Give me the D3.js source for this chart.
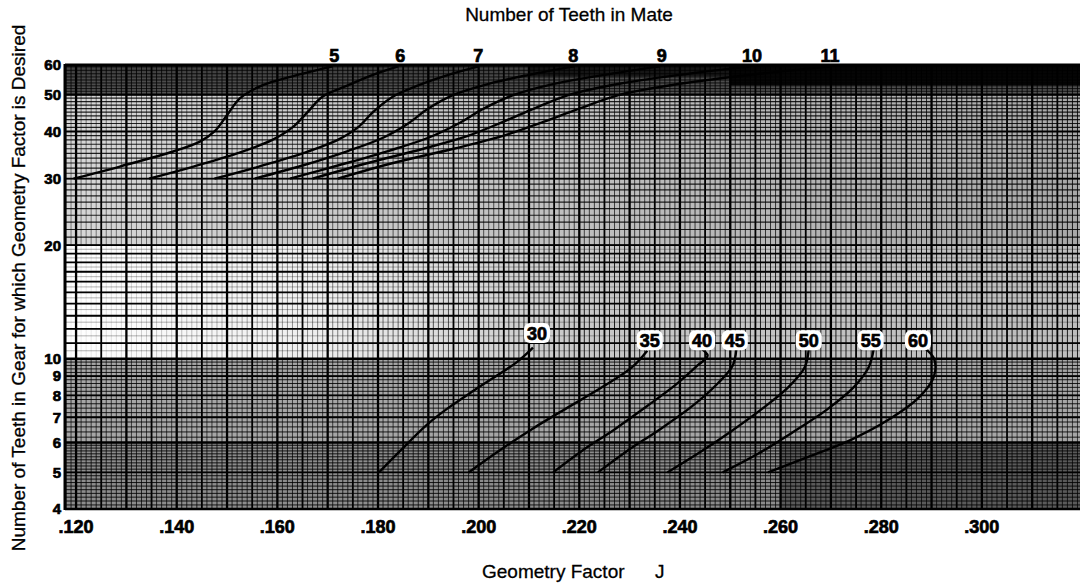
<!DOCTYPE html>
<html><head><meta charset="utf-8">
<script src="https://cdn.jsdelivr.net/npm/d3@7/dist/d3.min.js"></script>
<style>body{margin:0;background:#fff}svg{display:block}text{font-family:"Liberation Sans",Arial,Helvetica,sans-serif}
.heavy{font-weight:bold;stroke:#000;stroke-width:0.7px;paint-order:stroke}</style>
</head><body><svg id="c" width="1080" height="584"></svg>
<script>
// ---- axis ticks ----
const jTicks = [0.12, 0.14, 0.16, 0.18, 0.20, 0.22, 0.24, 0.26, 0.28, 0.30];
const jTickLabels = [".120", ".140", ".160", ".180", ".200", ".220", ".240", ".260", ".280", ".300"];
const nTicks = [4, 5, 6, 7, 8, 9, 10, 20, 30, 40, 50, 60];

// ---- upper family: number of teeth in mate 5..11 (points: [J, N]) ----
const upperLabels = ["5", "6", "7", "8", "9", "10", "11"];
const upperLabelJ = [0.1713, 0.1844, 0.1999, 0.2188, 0.2364, 0.2543, 0.2698];
const mate5  = [[0.1195,30],[0.1287,32.3],[0.1393,35.4],[0.1446,37.6],[0.1475,40],[0.1499,44],[0.1526,49],[0.157,53],[0.163,56],[0.171,59.5]];
const mate6  = [[0.1345,30],[0.143,32.2],[0.152,35],[0.159,38],[0.163,41],[0.166,45],[0.169,49.5],[0.174,53],[0.179,56.5],[0.184,59.5]];
const mate7  = [[0.1475,30],[0.156,32.2],[0.165,35],[0.172,38],[0.176,41],[0.179,45],[0.183,49.5],[0.188,53],[0.194,56.5],[0.2,59.5]];
const mate8  = [[0.1555,30],[0.165,32.5],[0.174,35.5],[0.181,38.5],[0.186,42],[0.19,46],[0.195,50],[0.202,53.5],[0.21,56.5],[0.219,59.5]];
const mate9  = [[0.1625,30],[0.172,32.5],[0.182,35.5],[0.19,38.5],[0.196,42],[0.201,46],[0.207,50],[0.215,53.5],[0.225,56.5],[0.236,59.5]];
const mate10 = [[0.167,30],[0.178,33],[0.189,36],[0.198,39],[0.205,42.5],[0.211,46],[0.218,50],[0.228,53.5],[0.24,56.5],[0.254,59.5]];
const mate11 = [[0.172,30],[0.183,33],[0.195,36],[0.205,39],[0.213,42.5],[0.22,46],[0.228,50],[0.24,53.5],[0.254,56.5],[0.27,59.5]];

// ---- lower family: number of teeth in mate 30..60 ----
const lowerLabels = ["30", "35", "40", "45", "50", "55", "60"];
const lowerLabelJ = [0.2116, 0.2340, 0.2444, 0.2509, 0.2656, 0.2779, 0.2873];
const lowerLabelN = [11.7, 11.2, 11.2, 11.2, 11.2, 11.2, 11.2];
const mate30 = [[0.1802,5],[0.1844,5.7],[0.1898,6.7],[0.1939,7.4],[0.2,8.4],[0.2076,9.8],[0.2108,10.7]];
const mate35 = [[0.198,5],[0.204,5.7],[0.2105,6.5],[0.2175,7.4],[0.2245,8.4],[0.2305,9.5],[0.2335,10.5]];
const mate40 = [[0.2148,5],[0.2205,5.7],[0.227,6.5],[0.2335,7.5],[0.239,8.5],[0.2435,9.6],[0.2455,10.2],[0.2435,10.8]];
const mate45 = [[0.2237,5],[0.2295,5.7],[0.236,6.5],[0.2425,7.5],[0.2475,8.6],[0.2505,9.6],[0.2512,10.6]];
const mate50 = [[0.2375,5],[0.2435,5.6],[0.25,6.4],[0.2565,7.4],[0.2615,8.4],[0.2648,9.5],[0.2656,10.6]];
const mate55 = [[0.2485,5],[0.2555,5.6],[0.2625,6.4],[0.269,7.3],[0.2745,8.4],[0.2775,9.5],[0.2785,10.6]];
const mate60 = [[0.2575,5],[0.2655,5.5],[0.274,6.1],[0.2815,6.9],[0.2875,7.9],[0.2905,9],[0.2905,10],[0.2885,10.7]];

const upperCurves = [mate5, mate6, mate7, mate8, mate9, mate10, mate11];
const lowerCurves = [mate30, mate35, mate40, mate45, mate50, mate55, mate60];

// ---- layout ----
const pL = 65, pR = 1080, pT = 65, pB = 509;
const svg = d3.select("#c");
const x = d3.scaleLinear().domain([0.1178, 0.3195]).range([pL, pR]);
const y = d3.scaleLog().domain([4, 60]).range([pB, pT]);
const J0 = 0.1178, J1 = 0.3195;

const plot = svg.append("g");
const defs = svg.append("defs");
defs.append("clipPath").attr("id","clip").append("rect")
  .attr("x", pL).attr("y", pT).attr("width", pR-pL).attr("height", pB-pT);
const grad = defs.append("linearGradient").attr("id","fade").attr("x1","0").attr("x2","1").attr("y1","0").attr("y2","0");
grad.append("stop").attr("offset","0").attr("stop-color","#fff");
grad.append("stop").attr("offset","0.25").attr("stop-color","#eee");
grad.append("stop").attr("offset","0.5").attr("stop-color","#c8c8c8");
grad.append("stop").attr("offset","1").attr("stop-color","#bdbdbd");
const grad2 = defs.append("linearGradient").attr("id","fade2").attr("x1","0").attr("x2","1").attr("y1","0").attr("y2","0");
grad2.append("stop").attr("offset","0").attr("stop-color","#d6d6d6");
grad2.append("stop").attr("offset","1").attr("stop-color","#a8a8a8");
const g = plot.append("g").attr("clip-path","url(#clip)");

// background shading bands (scan tone)
const bands = [
  {n0:4, n1:6, j0:J0, j1:J1, c:"#8c8c8c"},
  {n0:6, n1:10, j0:J0, j1:J1, c:"#a6a6a6"},
  {n0:10, n1:20, j0:J0, j1:J1, c:"url(#fade)"},
  {n0:20, n1:50, j0:J0, j1:J1, c:"url(#fade2)"},
  {n0:50, n1:60, j0:J0, j1:J1, c:"#7a7a7a"},
  {n0:53, n1:60, j0:0.25, j1:J1, c:"#0a0a0a"},
  {n0:56, n1:60, j0:0.21, j1:0.25, c:"#2a2a2a"},
  {n0:4, n1:6, j0:0.26, j1:J1, c:"#5a5a5a"}
];
g.selectAll("rect.band").data(bands).join("rect").attr("class","band")
  .attr("x", d=>x(d.j0)).attr("width", d=>x(d.j1)-x(d.j0))
  .attr("y", d=>y(d.n1)).attr("height", d=>y(d.n0)-y(d.n1)).attr("fill", d=>d.c);

// minor vertical grid, drawn band by band with the scan's varying tone
const vIdx = d3.range(118, 320).filter(i => i%5 !== 0);
const vBands = [
  {n0:4, n1:6, op: t => 0.75},
  {n0:6, n1:10, op: t => 0.65},
  {n0:10, n1:20, op: t => Math.min(0.85, 0.05 + 1.6*t)},
  {n0:20, n1:50, op: t => 0.45 + 0.4*t},
  {n0:50, n1:60, op: t => 0.8}
];
vBands.forEach((b, k) => {
  g.selectAll("line.v"+k).data(vIdx).join("line").attr("class","v"+k)
    .attr("x1", i=>x(i/1000)).attr("x2", i=>x(i/1000))
    .attr("y1", y(b.n1)).attr("y2", y(b.n0))
    .attr("stroke", "#000").attr("stroke-width", 1)
    .attr("stroke-opacity", i => b.op((i-118)/202));
});
// major vertical grid
const vMajor = d3.range(120, 320, 5);
g.selectAll("line.vM").data(vMajor).join("line").attr("class","vM")
  .attr("x1", i=>x(i/1000)).attr("x2", i=>x(i/1000))
  .attr("y1", pT).attr("y2", pB)
  .attr("stroke", "#000").attr("stroke-width", i => i%10===0 ? 2.3 : 1.8);

// horizontal grid
const hMinor = [].concat(
  d3.range(40, 60).map(i=>i/10),
  d3.range(30, 50).map(i=>i/5),
  d3.range(20, 40).map(i=>i/2),
  d3.range(20, 50),
  d3.range(100, 120).map(i=>i/2)
);
g.selectAll("line.hm").data(hMinor).join("line").attr("class","hm")
  .attr("x1", pL).attr("x2", pR).attr("y1", d=>y(d)).attr("y2", d=>y(d))
  .attr("stroke", "#000").attr("stroke-width", d => (d>=20 && d<50) ? 1.2 : 1)
  .attr("stroke-opacity", d => (d>=10 && d<20) ? 0.3 : 0.85);
const hMajor = [4,5,6,7,8,9,10,11,12,13,14,15,16,17,18,19,20,30,40,50,60];
g.selectAll("line.hM").data(hMajor).join("line").attr("class","hM")
  .attr("x1", pL).attr("x2", pR).attr("y1", d=>y(d)).attr("y2", d=>y(d))
  .attr("stroke", "#000").attr("stroke-width", d => (d===10||d===6||d===60) ? 2.5 : 1.8);

// frame
plot.append("line").attr("x1", pL).attr("x2", pL).attr("y1", pT-1).attr("y2", pB+1).attr("stroke","#000").attr("stroke-width",3);
plot.append("line").attr("x1", pL).attr("x2", pR).attr("y1", pT).attr("y2", pT).attr("stroke","#000").attr("stroke-width",3);
plot.append("line").attr("x1", pL).attr("x2", pR).attr("y1", pB).attr("y2", pB).attr("stroke","#000").attr("stroke-width",2.5);

// curves
const line = d3.line().x(d=>x(d[0])).y(d=>y(d[1])).curve(d3.curveCatmullRom.alpha(0.5));
g.selectAll("path.up").data(upperCurves).join("path").attr("class","up")
  .attr("d", line).attr("fill","none").attr("stroke","#000").attr("stroke-width",2.4);
g.selectAll("path.lo").data(lowerCurves).join("path").attr("class","lo")
  .attr("d", line).attr("fill","none").attr("stroke","#000").attr("stroke-width",2.4);

// lower labels with white boxes
const lo = svg.append("g").selectAll("g").data(lowerLabels).join("g")
  .attr("transform", (d,i)=>`translate(${x(lowerLabelJ[i])},${y(lowerLabelN[i])})`);
lo.append("rect").attr("x",-13).attr("y",-10).attr("width",26).attr("height",20).attr("rx",6).attr("fill","#fff");
lo.append("text").attr("class","heavy").text(d=>d).attr("text-anchor","middle").attr("dy","0.36em")
  .attr("font-size",18);

// upper labels
svg.append("g").selectAll("text").data(upperLabels).join("text").attr("class","heavy")
  .attr("x",(d,i)=>x(upperLabelJ[i])).attr("y", pT-3)
  .attr("text-anchor","middle").attr("font-size",18).text(d=>d);

// x tick labels
svg.append("g").selectAll("text").data(jTicks).join("text").attr("class","heavy")
  .attr("x", d=>x(d)).attr("y", 533).attr("text-anchor","middle")
  .attr("font-size",18).text((d,i)=>jTickLabels[i]);

// y tick labels
svg.append("g").selectAll("text").data(nTicks).join("text").attr("class","heavy")
  .attr("x", 61).attr("y", d=>y(d)).attr("dy","0.36em").attr("text-anchor","end")
  .attr("font-size",15).text(d=>d);

// titles
svg.append("text").attr("x",569).attr("y",21).attr("text-anchor","middle").attr("font-size",19)
  .attr("stroke","#000").attr("stroke-width",0.3).text("Number of Teeth in Mate");
svg.append("text").attr("x",482).attr("y",578).attr("font-size",19)
  .attr("stroke","#000").attr("stroke-width",0.3).text("Geometry Factor");
svg.append("text").attr("x",655).attr("y",578).attr("font-size",19)
  .attr("stroke","#000").attr("stroke-width",0.3).text("J");
svg.append("text").attr("transform","translate(25,288) rotate(-90)").attr("text-anchor","middle")
  .attr("font-size",19).attr("stroke","#000").attr("stroke-width",0.3)
  .text("Number of Teeth in Gear for which Geometry Factor is Desired");
</script></body></html>
